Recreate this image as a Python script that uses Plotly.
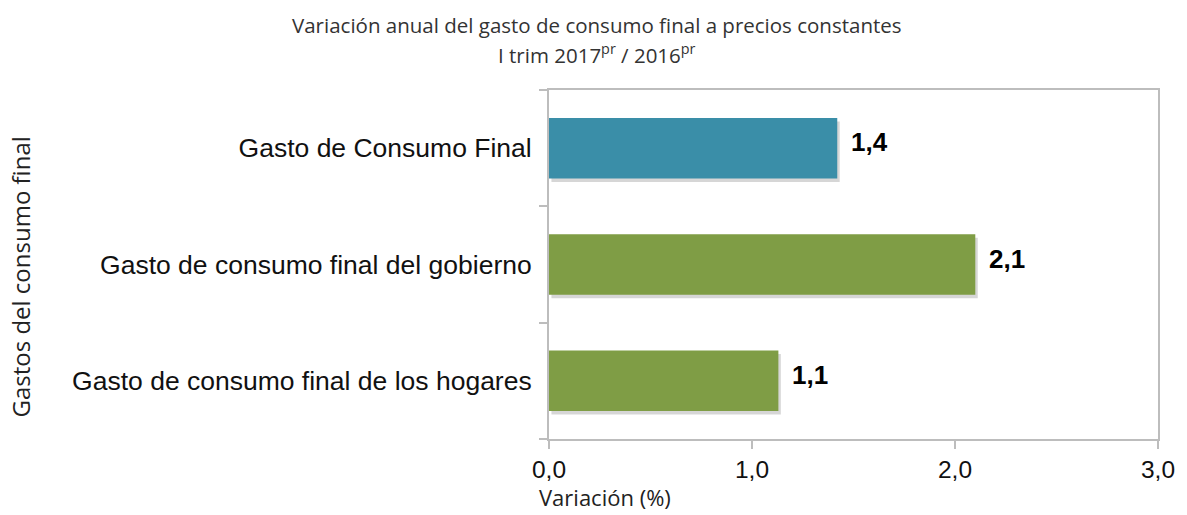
import plotly.graph_objects as go

categories = ["Gasto de consumo final de los hogares",
              "Gasto de consumo final del gobierno",
              "Gasto de Consumo Final"]
values = [1.13, 2.1, 1.42]
labels = ["1,1", "2,1", "1,4"]
colors = ["#7F9D45", "#7F9D45", "#3A8EA8"]
x_ticks = [0, 1, 2, 3]
x_ticklabels = ["0,0", "1,0", "2,0", "3,0"]

fig = go.Figure()
# soft shadow
fig.add_trace(go.Bar(y=categories, x=values, orientation="h", width=0.52,
                     offset=-0.29, base=0.012,
                     marker=dict(color="rgba(0,0,0,0.16)", line=dict(width=0)),
                     hoverinfo="skip", showlegend=False))
fig.add_trace(go.Bar(y=categories, x=values, orientation="h", width=0.52,
                     marker=dict(color=colors, line=dict(width=0)),
                     showlegend=False))

for c, v, t in zip(categories, values, labels):
    fig.add_annotation(x=v, y=c, text="<b>%s</b>" % t, showarrow=False,
                       xanchor="left", xshift=12, yshift=6,
                       font=dict(family="Liberation Sans, Arial", size=26, color="#000"))

W = 613
fig.add_annotation(xref="paper", yref="paper", x=(597 - 549) / W, y=1,
                   xanchor="center", yanchor="middle", yshift=65, showarrow=False,
                   text="Variación anual del gasto de consumo final a precios constantes",
                   font=dict(family="Open Sans", size=20.5, color="#333"))
fig.add_annotation(xref="paper", yref="paper", x=(597 - 549) / W, y=1,
                   xanchor="center", yanchor="middle", yshift=36, showarrow=False,
                   text="I trim 2017<sup>pr</sup> / 2016<sup>pr</sup>",
                   font=dict(family="Open Sans", size=20.5, color="#333"))
fig.add_annotation(xref="paper", yref="paper", x=(605 - 549) / W, y=0,
                   xanchor="center", yanchor="middle", yshift=-58, showarrow=False,
                   text="Variación (%)",
                   font=dict(family="Open Sans", size=22, color="#222"))
fig.add_annotation(xref="paper", yref="paper", x=(17 - 549) / W, y=(439 - 277) / 349,
                   textangle=-90, showarrow=False, xanchor="center", yanchor="middle",
                   text="Gastos del consumo final",
                   font=dict(family="Open Sans", size=24, color="#222"))

fig.update_layout(
    width=1187, height=515,
    margin=dict(l=549, r=25, t=90, b=76),
    paper_bgcolor="white", plot_bgcolor="white",
    barmode="overlay", bargap=0.48,
    separators=",.",
)
fig.update_xaxes(range=[0, 3], tickvals=x_ticks, ticktext=x_ticklabels,
                 showgrid=False, zeroline=False, showline=True, linecolor="#BDBDBD",
                 linewidth=2, mirror=True, ticks="outside", ticklen=8, tickwidth=2,
                 tickcolor="#BDBDBD",
                 tickfont=dict(family="Liberation Sans, Arial", size=24.5, color="#111"))
fig.update_yaxes(categoryorder="array", categoryarray=categories,
                 showgrid=False, zeroline=False, showline=True, linecolor="#BDBDBD",
                 linewidth=2, mirror=True, ticks="outside", ticklen=8, tickwidth=2,
                 tickcolor="#BDBDBD", tickson="boundaries", ticklabelstandoff=10,
                 tickfont=dict(family="Liberation Sans, Arial", size=26.5, color="#111"))

fig.write_html("out.html", config={"displayModeBar": False},
               post_script="document.body.style.margin='0';")
